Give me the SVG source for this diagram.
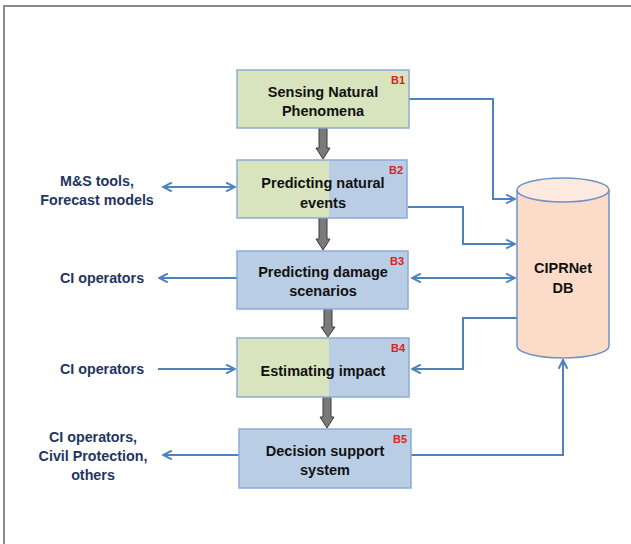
<svg xmlns="http://www.w3.org/2000/svg" width="631" height="544" viewBox="0 0 631 544">
<style>
.box{stroke:#8eaad6;stroke-width:1.5}
.bt{font-family:"Liberation Sans",Arial,sans-serif;font-weight:bold;font-size:14.5px;fill:#111;text-anchor:middle}
.lab{font-family:"Liberation Sans",Arial,sans-serif;font-weight:bold;font-size:11px;fill:#e0201b;text-anchor:middle}
.side{font-family:"Liberation Sans",Arial,sans-serif;font-weight:bold;font-size:14.3px;fill:#1f3560;text-anchor:middle}
.con{fill:none;stroke:#4f81bd;stroke-width:2}
.blk{fill:#7a7a7a;stroke:#3a3a3a;stroke-width:1}
</style>
<defs>
<marker id="ah" viewBox="0 0 10 10" refX="9" refY="5" markerWidth="5.5" markerHeight="5.5" orient="auto-start-reverse" markerUnits="strokeWidth">
<path d="M1,1 L9,5 L1,9" fill="none" stroke="#4f81bd" stroke-width="1.8"/>
</marker>
</defs>
<rect x="0" y="0" width="631" height="544" fill="#fff"/>
<path d="M4,544 V6 H631" fill="none" stroke="#8a8a8a" stroke-width="2"/>

<g id="connectors">
<path class="con" d="M409,99 H493 V199 H515" marker-end="url(#ah)"/>
<path class="con" d="M408,207 H463 V244 H515" marker-end="url(#ah)"/>
<path class="con" d="M412,278 H515" marker-start="url(#ah)" marker-end="url(#ah)"/>
<path class="con" d="M517,318 H463 V369 H412" marker-end="url(#ah)"/>
<path class="con" d="M411,455 H563 V360" marker-end="url(#ah)"/>
<path class="con" d="M163,187 H235" marker-start="url(#ah)" marker-end="url(#ah)"/>
<path class="con" d="M237,278 H159" marker-end="url(#ah)"/>
<path class="con" d="M158,369 H235" marker-end="url(#ah)"/>
<path class="con" d="M239,455 H163" marker-end="url(#ah)"/>
<path class="blk" d="M319,128 H327 V148 H330 L323,159 L316,148 H319 Z"/>
<path class="blk" d="M319,218 H327 V239 H330 L323,250 L316,239 H319 Z"/>
<path class="blk" d="M324,309 H332 V327 H335 L328,337 L321,327 H324 Z"/>
<path class="blk" d="M323,397 H331 V417 H334 L327,428 L320,417 H323 Z"/>
</g>

<g id="B1">
<rect class="box" x="237" y="70" width="172" height="58" fill="#d7e4bd"/>
<text class="bt" x="323" y="97">Sensing Natural</text>
<text class="bt" x="323" y="116">Phenomena</text>
<text class="lab" x="398" y="84">B1</text>
</g>
<g id="B2">
<rect x="237" y="160" width="92" height="58" fill="#d7e4bd"/>
<rect x="329" y="160" width="78" height="58" fill="#b9cde5"/>
<rect class="box" x="237" y="160" width="170" height="58" fill="none"/>
<text class="bt" x="323" y="188">Predicting natural</text>
<text class="bt" x="323" y="208">events</text>
<text class="lab" x="396" y="174">B2</text>
</g>
<g id="B3">
<rect class="box" x="237" y="251" width="171" height="58" fill="#b9cde5"/>
<text class="bt" x="323" y="277">Predicting damage</text>
<text class="bt" x="323" y="296">scenarios</text>
<text class="lab" x="397" y="265">B3</text>
</g>
<g id="B4">
<rect x="237" y="338" width="92" height="59" fill="#d7e4bd"/>
<rect x="329" y="338" width="80" height="59" fill="#b9cde5"/>
<rect class="box" x="237" y="338" width="172" height="59" fill="none"/>
<text class="bt" x="323" y="376">Estimating impact</text>
<text class="lab" x="398" y="352">B4</text>
</g>
<g id="B5">
<rect class="box" x="239" y="429" width="172" height="59" fill="#b9cde5"/>
<text class="bt" x="325" y="456">Decision support</text>
<text class="bt" x="325" y="475">system</text>
<text class="lab" x="400" y="443">B5</text>
</g>
<g id="DB">
<path d="M517,190 V346 A46,12 0 0 0 609,346 V190" fill="#fcdcc9" stroke="#6f92c4" stroke-width="1.5"/>
<ellipse cx="563" cy="190" rx="46" ry="12" fill="#fde9de" stroke="#6f92c4" stroke-width="1.5"/>
<text class="bt" x="563" y="273">CIPRNet</text>
<text class="bt" x="563" y="293">DB</text>
</g>
<g id="L1">
<text class="side" x="97" y="186">M&amp;S tools,</text>
<text class="side" x="97" y="205">Forecast models</text>
</g>
<g id="L2"><text class="side" x="102" y="283">CI operators</text></g>
<g id="L3"><text class="side" x="102" y="374">CI operators</text></g>
<g id="L4">
<text class="side" x="93" y="442">CI operators,</text>
<text class="side" x="93" y="461">Civil Protection,</text>
<text class="side" x="93" y="480">others</text>
</g>
</svg>
